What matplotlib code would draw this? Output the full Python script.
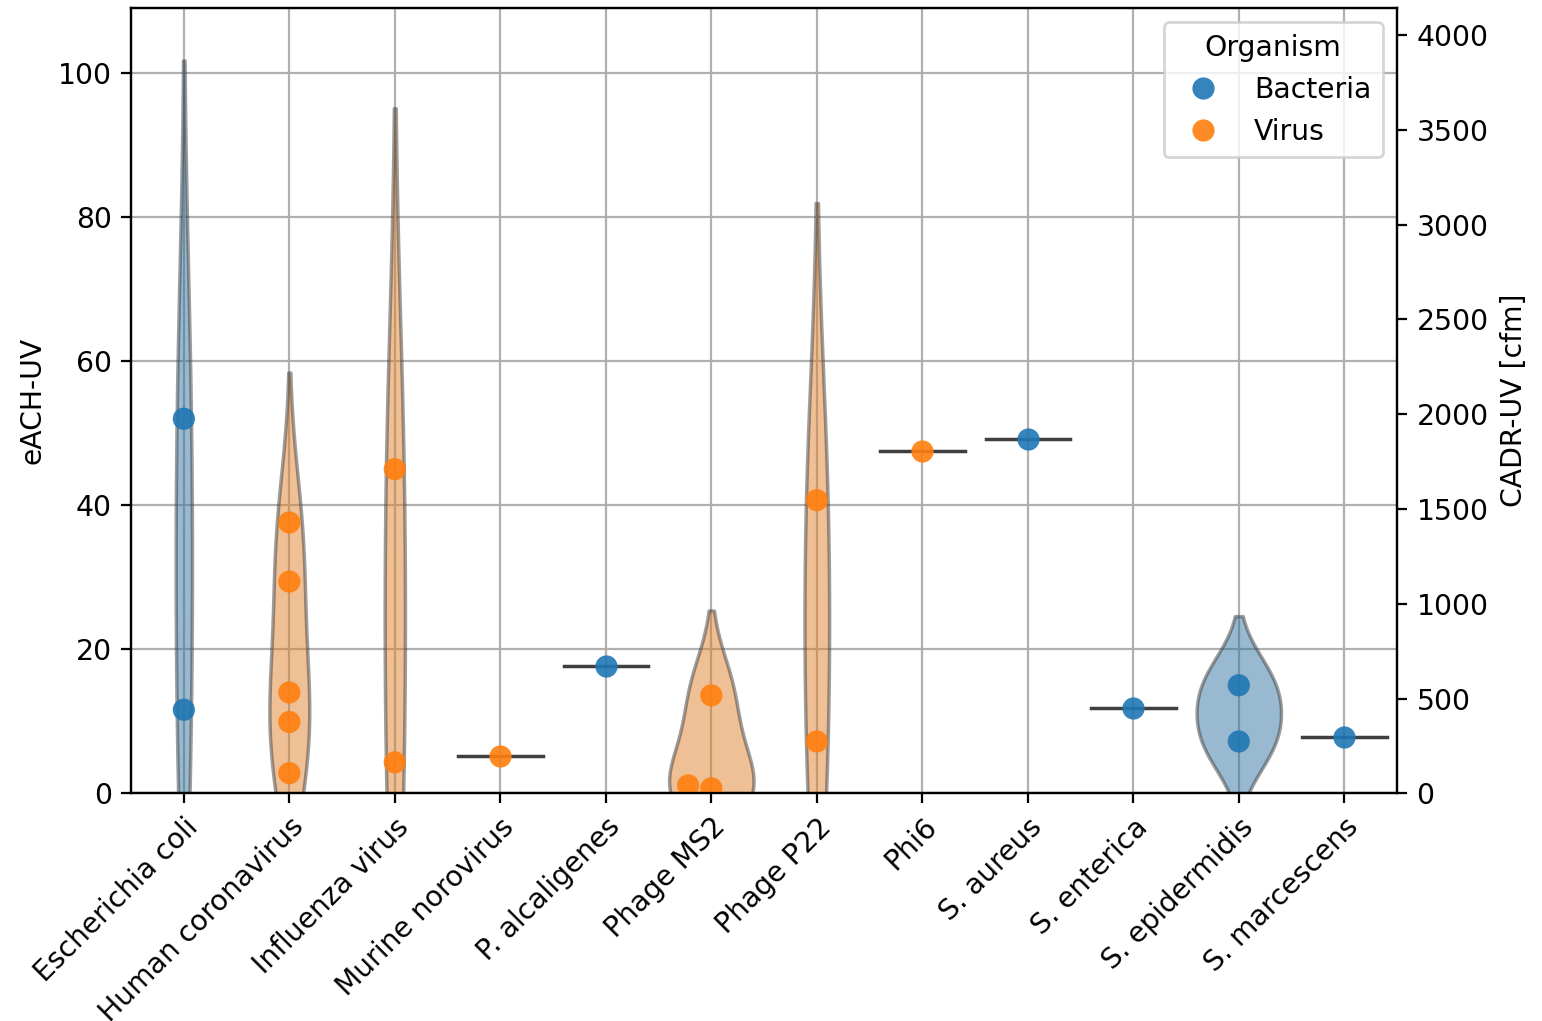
import pandas as pd
import matplotlib
matplotlib.use("Agg")
import matplotlib.pyplot as plt
import seaborn as sns

organisms = [
    "Escherichia coli", "Human coronavirus", "Influenza virus", "Murine norovirus",
    "P. alcaligenes", "Phage MS2", "Phage P22", "Phi6", "S. aureus",
    "S. enterica", "S. epidermidis", "S. marcescens",
]
kinds = ["Bacteria", "Virus", "Virus", "Virus", "Bacteria", "Virus", "Virus",
         "Virus", "Bacteria", "Bacteria", "Bacteria", "Bacteria"]
each_uv = [
    [52.0, 11.6],
    [37.6, 29.4, 14.0, 9.9, 2.8],
    [45.0, 4.3],
    [5.2],
    [17.7],
    [13.6, 1.1, 0.7],
    [40.7, 7.2],
    [47.5],
    [49.2],
    [11.8],
    [15.0, 7.2],
    [7.8],
]
cfm_per_ach = 38.0

rows = []
for name, kind, vals in zip(organisms, kinds, each_uv):
    for v in vals:
        rows.append({"Name": name, "Organism": kind, "eACH-UV": v})
df = pd.DataFrame(rows)

palette = {"Bacteria": "#1f77b4", "Virus": "#ff7f0e"}
plt.rcParams["font.size"] = 10.2

fig, ax = plt.subplots(figsize=(7.71, 5.105), dpi=200)
fig.subplots_adjust(left=0.085, right=0.906, top=0.992, bottom=0.223)
ax.set_axisbelow(True)

sns.violinplot(data=df, x="Name", y="eACH-UV", hue="Organism", order=organisms,
               hue_order=["Bacteria", "Virus"], palette=palette, inner=None,
               legend=False, ax=ax)
for c in ax.collections:
    c.set_alpha(0.5)

sns.swarmplot(data=df, x="Name", y="eACH-UV", hue="Organism", order=organisms,
              hue_order=["Bacteria", "Virus"], palette=palette, size=8,
              alpha=0.9, ax=ax)

# seaborn switches the categorical grid off, so turn it on afterwards
ax.grid(True, which="major", axis="both")

ax.set_ylim(0, 109)
ax.set_xlabel("")
ax.set_ylabel("eACH-UV")
plt.setp(ax.get_xticklabels(), rotation=45, ha="right", rotation_mode="anchor")
ax.legend(title="Organism", loc="upper right")

ax2 = ax.twinx()
lo, hi = ax.get_ylim()
ax2.set_ylim(lo * cfm_per_ach, hi * cfm_per_ach)
ax2.set_ylabel("CADR-UV [cfm]")

plt.savefig("out.png", dpi=200)
